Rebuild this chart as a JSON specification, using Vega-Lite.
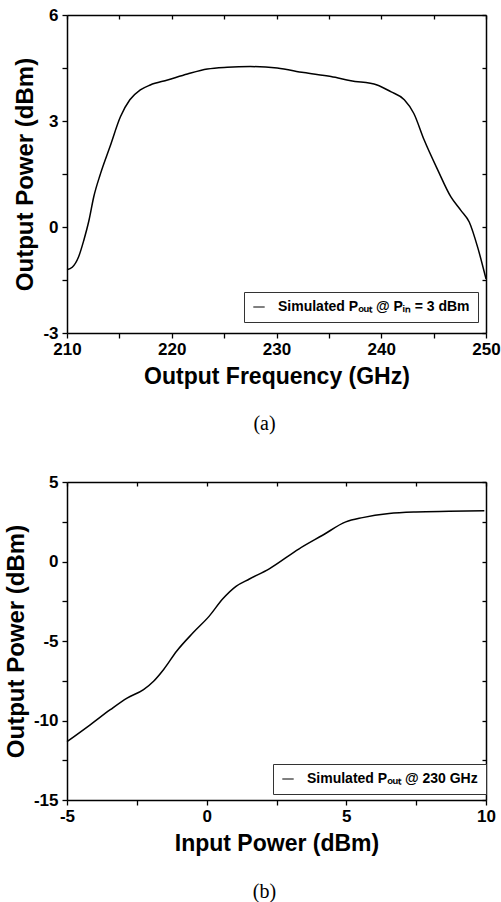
{
  "$schema": "https://vega.github.io/schema/vega-lite/v6.json",
  "background": "white",
  "padding": {"left": 4, "top": 6, "right": 6, "bottom": 4},
  "config": {
    "view": {"stroke": null},
    "font": "Liberation Sans",
    "axis": {"grid": false, "labelFlush": false, "domainColor": "black", "domainWidth": 1.5, "tickColor": "black", "tickWidth": 1.3, "tickSize": 5, "labelFont": "Liberation Sans", "labelFontSize": 17, "labelFontWeight": "bold", "labelColor": "black", "labelPadding": 3, "titleFont": "Liberation Sans", "titleFontWeight": "bold", "titleColor": "black"},
    "legend": {"title": null, "strokeColor": "#333", "fillColor": "white", "padding": 8, "labelOffset": 12, "labelFont": "Liberation Sans", "labelFontWeight": "bold", "labelFontSize": 14, "labelColor": "black", "labelLimit": 0, "symbolType": "stroke", "symbolSize": 130, "symbolStrokeWidth": 1, "symbolStrokeColor": "#444"},
    "title": {"font": "Liberation Serif", "fontSize": 20, "fontWeight": "normal", "color": "black"}
  },
  "bounds": "flush",
  "spacing": 149,
  "resolve": {"scale": {"color": "independent"}, "legend": {"color": "independent"}},
  "vconcat": [
    {
      "width": 419,
      "height": 318,
      "title": {"text": "(a)", "orient": "bottom", "anchor": "middle", "dx": -12, "offset": 26},
      "data": {"values": [
        {"f": 210.0, "p": -1.21, "s": "Simulated Pₒᵤₜ @ Pᵢₙ = 3 dBm"},
        {"f": 210.5, "p": -1.14, "s": "Simulated Pₒᵤₜ @ Pᵢₙ = 3 dBm"},
        {"f": 211.1, "p": -0.85, "s": "Simulated Pₒᵤₜ @ Pᵢₙ = 3 dBm"},
        {"f": 211.6, "p": -0.38, "s": "Simulated Pₒᵤₜ @ Pᵢₙ = 3 dBm"},
        {"f": 212.1, "p": 0.19, "s": "Simulated Pₒᵤₜ @ Pᵢₙ = 3 dBm"},
        {"f": 212.55, "p": 0.85, "s": "Simulated Pₒᵤₜ @ Pᵢₙ = 3 dBm"},
        {"f": 213.2, "p": 1.51, "s": "Simulated Pₒᵤₜ @ Pᵢₙ = 3 dBm"},
        {"f": 214.1, "p": 2.27, "s": "Simulated Pₒᵤₜ @ Pᵢₙ = 3 dBm"},
        {"f": 215.1, "p": 3.12, "s": "Simulated Pₒᵤₜ @ Pᵢₙ = 3 dBm"},
        {"f": 216.0, "p": 3.6, "s": "Simulated Pₒᵤₜ @ Pᵢₙ = 3 dBm"},
        {"f": 217.0, "p": 3.88, "s": "Simulated Pₒᵤₜ @ Pᵢₙ = 3 dBm"},
        {"f": 217.95, "p": 4.02, "s": "Simulated Pₒᵤₜ @ Pᵢₙ = 3 dBm"},
        {"f": 219.6, "p": 4.16, "s": "Simulated Pₒᵤₜ @ Pᵢₙ = 3 dBm"},
        {"f": 221.5, "p": 4.33, "s": "Simulated Pₒᵤₜ @ Pᵢₙ = 3 dBm"},
        {"f": 223.4, "p": 4.47, "s": "Simulated Pₒᵤₜ @ Pᵢₙ = 3 dBm"},
        {"f": 225.3, "p": 4.52, "s": "Simulated Pₒᵤₜ @ Pᵢₙ = 3 dBm"},
        {"f": 227.5, "p": 4.54, "s": "Simulated Pₒᵤₜ @ Pᵢₙ = 3 dBm"},
        {"f": 230.07, "p": 4.5, "s": "Simulated Pₒᵤₜ @ Pᵢₙ = 3 dBm"},
        {"f": 232.6, "p": 4.37, "s": "Simulated Pₒᵤₜ @ Pᵢₙ = 3 dBm"},
        {"f": 235.2, "p": 4.26, "s": "Simulated Pₒᵤₜ @ Pᵢₙ = 3 dBm"},
        {"f": 237.1, "p": 4.14, "s": "Simulated Pₒᵤₜ @ Pᵢₙ = 3 dBm"},
        {"f": 239.6, "p": 4.02, "s": "Simulated Pₒᵤₜ @ Pᵢₙ = 3 dBm"},
        {"f": 240.9, "p": 3.83, "s": "Simulated Pₒᵤₜ @ Pᵢₙ = 3 dBm"},
        {"f": 242.2, "p": 3.6, "s": "Simulated Pₒᵤₜ @ Pᵢₙ = 3 dBm"},
        {"f": 243.1, "p": 3.22, "s": "Simulated Pₒᵤₜ @ Pᵢₙ = 3 dBm"},
        {"f": 244.1, "p": 2.46, "s": "Simulated Pₒᵤₜ @ Pᵢₙ = 3 dBm"},
        {"f": 245.4, "p": 1.61, "s": "Simulated Pₒᵤₜ @ Pᵢₙ = 3 dBm"},
        {"f": 246.65, "p": 0.85, "s": "Simulated Pₒᵤₜ @ Pᵢₙ = 3 dBm"},
        {"f": 247.6, "p": 0.47, "s": "Simulated Pₒᵤₜ @ Pᵢₙ = 3 dBm"},
        {"f": 248.4, "p": 0.14, "s": "Simulated Pₒᵤₜ @ Pᵢₙ = 3 dBm"},
        {"f": 249.2, "p": -0.57, "s": "Simulated Pₒᵤₜ @ Pᵢₙ = 3 dBm"},
        {"f": 250.0, "p": -1.47, "s": "Simulated Pₒᵤₜ @ Pᵢₙ = 3 dBm"}
      ]},
      "layer": [
        {
          "mark": {"type": "line", "interpolate": "monotone", "strokeWidth": 1.5},
          "encoding": {
            "x": {"field": "f", "type": "quantitative", "scale": {"domain": [210, 250], "nice": false, "zero": false},
              "axis": {"orient": "bottom", "title": "Output Frequency (GHz)", "titleFontSize": 23, "titlePadding": 8, "values": [210, 215, 220, 225, 230, 235, 240, 245, 250], "labelExpr": "datum.value % 10 === 0 ? '' + datum.value : ''"}},
            "y": {"field": "p", "type": "quantitative", "scale": {"domain": [-3, 6], "nice": false, "zero": false},
              "axis": {"orient": "left", "title": "Output Power (dBm)", "titleFontSize": 24, "titlePadding": 5, "labelPadding": 4, "values": [-3, -1.5, 0, 1.5, 3, 4.5, 6], "labelExpr": "datum.value % 3 === 0 ? '' + datum.value : ''"}},
            "color": {"field": "s", "type": "nominal", "scale": {"range": ["black"]},
              "legend": {"orient": "none", "legendX": 177, "legendY": 277}}
          }
        },
        {
          "mark": {"type": "line", "interpolate": "monotone", "opacity": 0},
          "encoding": {
            "x": {"field": "f", "type": "quantitative", "axis": {"orient": "top", "title": null, "labels": false, "tickSize": -4, "values": [210, 215, 220, 225, 230, 235, 240, 245, 250]}},
            "y": {"field": "p", "type": "quantitative", "axis": {"orient": "right", "title": null, "labels": false, "tickSize": -4, "values": [-3, -1.5, 0, 1.5, 3, 4.5, 6]}}
          }
        }
      ],
      "resolve": {"axis": {"x": "independent", "y": "independent"}}
    },
    {
      "width": 419,
      "height": 318,
      "title": {"text": "(b)", "orient": "bottom", "anchor": "middle", "dx": -12, "offset": 27},
      "data": {"values": [
        {"x": -5.0, "p": -11.33, "s": "Simulated Pₒᵤₜ @ 230 GHz"},
        {"x": -4.17, "p": -10.27, "s": "Simulated Pₒᵤₜ @ 230 GHz"},
        {"x": -3.45, "p": -9.32, "s": "Simulated Pₒᵤₜ @ 230 GHz"},
        {"x": -2.85, "p": -8.59, "s": "Simulated Pₒᵤₜ @ 230 GHz"},
        {"x": -2.26, "p": -8.06, "s": "Simulated Pₒᵤₜ @ 230 GHz"},
        {"x": -1.9, "p": -7.53, "s": "Simulated Pₒᵤₜ @ 230 GHz"},
        {"x": -1.54, "p": -6.79, "s": "Simulated Pₒᵤₜ @ 230 GHz"},
        {"x": -1.07, "p": -5.63, "s": "Simulated Pₒᵤₜ @ 230 GHz"},
        {"x": -0.48, "p": -4.47, "s": "Simulated Pₒᵤₜ @ 230 GHz"},
        {"x": 0.1, "p": -3.42, "s": "Simulated Pₒᵤₜ @ 230 GHz"},
        {"x": 0.57, "p": -2.36, "s": "Simulated Pₒᵤₜ @ 230 GHz"},
        {"x": 1.05, "p": -1.56, "s": "Simulated Pₒᵤₜ @ 230 GHz"},
        {"x": 1.53, "p": -1.1, "s": "Simulated Pₒᵤₜ @ 230 GHz"},
        {"x": 2.24, "p": -0.46, "s": "Simulated Pₒᵤₜ @ 230 GHz"},
        {"x": 3.31, "p": 0.8, "s": "Simulated Pₒᵤₜ @ 230 GHz"},
        {"x": 4.15, "p": 1.65, "s": "Simulated Pₒᵤₜ @ 230 GHz"},
        {"x": 4.98, "p": 2.49, "s": "Simulated Pₒᵤₜ @ 230 GHz"},
        {"x": 5.58, "p": 2.76, "s": "Simulated Pₒᵤₜ @ 230 GHz"},
        {"x": 6.53, "p": 3.02, "s": "Simulated Pₒᵤₜ @ 230 GHz"},
        {"x": 7.49, "p": 3.12, "s": "Simulated Pₒᵤₜ @ 230 GHz"},
        {"x": 8.68, "p": 3.16, "s": "Simulated Pₒᵤₜ @ 230 GHz"},
        {"x": 9.94, "p": 3.19, "s": "Simulated Pₒᵤₜ @ 230 GHz"}
      ]},
      "layer": [
        {
          "mark": {"type": "line", "interpolate": "monotone", "strokeWidth": 1.5},
          "encoding": {
            "x": {"field": "x", "type": "quantitative", "scale": {"domain": [-5, 10], "nice": false, "zero": false},
              "axis": {"orient": "bottom", "title": "Input Power (dBm)", "titleFontSize": 23, "titlePadding": 8, "values": [-5, -2.5, 0, 2.5, 5, 7.5, 10], "labelExpr": "datum.value % 5 === 0 ? '' + datum.value : ''"}},
            "y": {"field": "p", "type": "quantitative", "scale": {"domain": [-15, 5], "nice": false, "zero": false},
              "axis": {"orient": "left", "title": "Output Power (dBm)", "titleFontSize": 24, "titlePadding": 5, "labelPadding": 4, "values": [-15, -12.5, -10, -7.5, -5, -2.5, 0, 2.5, 5], "labelExpr": "datum.value % 5 === 0 ? '' + datum.value : ''"}},
            "color": {"field": "s", "type": "nominal", "scale": {"range": ["black"]},
              "legend": {"orient": "none", "legendX": 206, "legendY": 282}}
          }
        },
        {
          "mark": {"type": "line", "interpolate": "monotone", "opacity": 0},
          "encoding": {
            "x": {"field": "x", "type": "quantitative", "axis": {"orient": "top", "title": null, "labels": false, "tickSize": -4, "values": [-5, -2.5, 0, 2.5, 5, 7.5, 10]}},
            "y": {"field": "p", "type": "quantitative", "axis": {"orient": "right", "title": null, "labels": false, "tickSize": -4, "values": [-15, -12.5, -10, -7.5, -5, -2.5, 0, 2.5, 5]}}
          }
        }
      ],
      "resolve": {"axis": {"x": "independent", "y": "independent"}}
    }
  ]
}
